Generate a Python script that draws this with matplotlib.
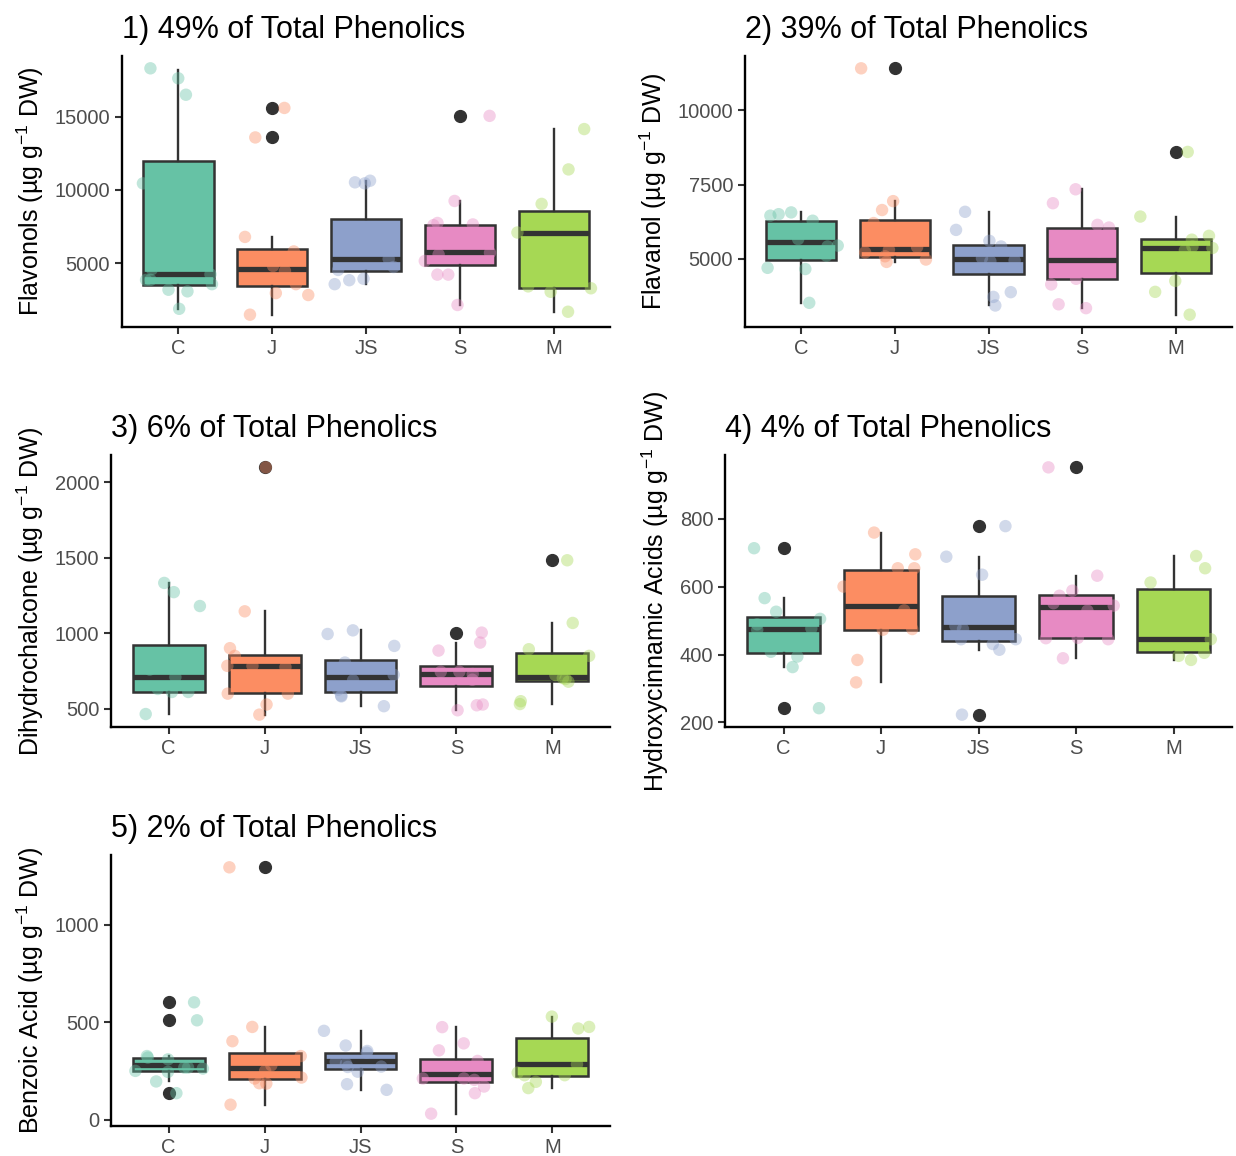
import numpy as np
import matplotlib
matplotlib.use("Agg")
import matplotlib.pyplot as plt

plt.rcParams['font.family'] = ['Liberation Sans', 'DejaVu Sans']
plt.rcParams['mathtext.fontset'] = 'custom'
plt.rcParams['mathtext.rm'] = 'Liberation Sans'
plt.rcParams['mathtext.it'] = 'Liberation Sans:italic'
plt.rcParams['mathtext.default'] = 'regular'

groups = ["C", "J", "JS", "S", "M"]
group_colors = ["#66C2A5", "#FC8D62", "#8DA0CB", "#E78AC3", "#A6D854"]

# box stats per group: q1, median, q3, lower whisker, upper whisker
flavonols_box = [(3500, 4250, 12000, 1900, 18200), (3470, 4600, 5950, 1500, 6800),
                 (4450, 5300, 8050, 3580, 10630), (4900, 5800, 7600, 2160, 9250),
                 (3350, 7100, 8600, 1700, 14150)]
flavonols_out = [[], [15590, 13580], [], [15050], []]
flavonols_pts = [[18290, 17610, 16490, 10450, 4600, 4250, 3870, 3870, 3580, 3090, 3200, 1900],
                 [15590, 13580, 6800, 5810, 4480, 4820, 3580, 2970, 2840, 1500],
                 [10630, 10450, 10520, 7300, 6300, 5300, 4750, 4550, 3950, 3850, 3580],
                 [15050, 9250, 7600, 7650, 7750, 5720, 5600, 5160, 4230, 4230, 2160],
                 [14150, 11400, 9050, 7100, 3430, 3300, 3060, 1700]]

flavanol_box = [(4970, 5550, 6280, 3510, 6560), (5060, 5340, 6300, 4890, 6940),
                (4490, 5000, 5460, 3420, 6580), (4300, 4970, 6050, 3330, 7340),
                (4510, 5360, 5670, 3110, 6420)]
flavanol_out = [[], [11420], [], [], [8600]]
flavanol_pts = [[6560, 6500, 6450, 6280, 5660, 5440, 5410, 5100, 4690, 4650, 3510],
                [11420, 6940, 6640, 6200, 5390, 5300, 5210, 5080, 4970, 4890],
                [6580, 5970, 5600, 5410, 5020, 4940, 4910, 3870, 3710, 3420],
                [7340, 6870, 6140, 6050, 5250, 4320, 4130, 3460, 3330],
                [8600, 6420, 5770, 5640, 5410, 5360, 5280, 4250, 3880, 3110]]

dhc_box = [(615, 711, 924, 466, 1334), (605, 785, 858, 462, 1146),
           (612, 711, 821, 518, 1020), (654, 731, 781, 491, 935),
           (687, 709, 873, 532, 1069)]
dhc_out = [[], [2099], [], [1005], [1484]]
dhc_pts = [[1334, 1273, 1181, 760, 711, 632, 612, 612, 466],
           [2099, 1146, 902, 851, 785, 785, 777, 601, 601, 529, 462],
           [1020, 996, 917, 807, 726, 689, 627, 583, 588, 518],
           [1005, 939, 886, 746, 746, 731, 693, 529, 524, 491],
           [1484, 1069, 895, 851, 724, 704, 698, 680, 551, 532]]

hca_box = [(404, 475, 510, 363, 566), (473, 544, 649, 318, 759),
           (441, 482, 573, 414, 688), (450, 539, 575, 389, 632),
           (408, 445, 594, 384, 690)]
hca_out = [[713, 242], [], [778, 223], [951], []]
hca_pts = [[713, 566, 526, 505, 489, 477, 473, 408, 394, 363, 242],
           [759, 695, 654, 654, 600, 530, 475, 473, 384, 318],
           [778, 688, 635, 484, 475, 445, 445, 431, 414, 223],
           [951, 632, 588, 573, 551, 544, 529, 449, 448, 445, 389],
           [690, 654, 612, 445, 405, 396, 384]]

benzoic_box = [(251, 281, 319, 197, 327), (208, 268, 341, 78, 476),
               (263, 302, 344, 154, 456), (192, 234, 310, 32, 475),
               (225, 285, 417, 163, 529)]
benzoic_out = [[602, 510, 137], [1293], [], [], []]
benzoic_pts = [[602, 510, 327, 319, 310, 268, 268, 263, 251, 246, 197, 137],
               [1293, 476, 403, 327, 280, 251, 217, 212, 188, 186, 78],
               [456, 381, 353, 344, 297, 288, 273, 271, 247, 183, 154],
               [475, 392, 356, 302, 212, 212, 205, 171, 137, 32],
               [529, 476, 468, 285, 242, 229, 229, 195, 163]]

W, H = 1236, 1156
ink = "#333333"


def draw_panel(rect, title, ylabel, box, out, pts, yticks, seed):
	left, top, right, bottom = rect
	ax = fig.add_axes([left / W, 1 - bottom / H, (right - left) / W, (bottom - top) / H])

	stats = []
	for b, o in zip(box, out):
		stats.append(dict(q1=b[0], med=b[1], q3=b[2], whislo=b[3], whishi=b[4], fliers=o))
	pos = np.arange(1, len(groups) + 1)
	bp = ax.bxp(stats, positions=pos, widths=0.75, patch_artist=True, showcaps=False,
				boxprops=dict(edgecolor=ink, linewidth=1.8),
				whiskerprops=dict(color=ink, linewidth=1.7),
				medianprops=dict(color=ink, linewidth=3.8, solid_capstyle="butt"),
				flierprops=dict(marker="o", markerfacecolor=ink, markeredgecolor=ink, markersize=8.5))
	for patch, c in zip(bp["boxes"], group_colors):
		patch.set_facecolor(c)

	# jittered raw values on top, like geom_jitter(width = 0.4)
	rng = np.random.default_rng(seed)
	allv = []
	for i, (vals, c) in enumerate(zip(pts, group_colors)):
		vals = np.asarray(vals, dtype=float)
		xs = pos[i] + rng.uniform(-0.4, 0.4, len(vals))
		ax.scatter(xs, vals, s=80, color=c, alpha=0.4, edgecolors="none", zorder=4)
		allv.extend(vals)
	for b, o in zip(box, out):
		allv.extend(b)
		allv.extend(o)
	lo, hi = min(allv), max(allv)
	pad = 0.05 * (hi - lo)
	ax.set_ylim(lo - pad, hi + pad)
	ax.set_xlim(0.4, len(groups) + 0.6)

	ax.set_xticks(pos)
	ax.set_xticklabels(groups)
	ax.set_yticks(yticks)
	ax.tick_params(axis="both", labelsize=14.5, labelcolor="#4D4D4D", color=ink,
				   length=5, width=1.5)
	ax.spines["top"].set_visible(False)
	ax.spines["right"].set_visible(False)
	for s in ["left", "bottom"]:
		ax.spines[s].set_linewidth(1.7)
		ax.spines[s].set_color("black")

	ax.set_title(title, loc="left", fontsize=22, pad=13)
	ax.set_ylabel(ylabel, fontsize=18, labelpad=6)
	return ax
#end_def


fig = plt.figure(figsize=(W / 100, H / 100), dpi=100)

draw_panel((122, 56, 610, 327), "1) 49% of Total Phenolics", "Flavonols (µg g$^{-1}$ DW)",
		   flavonols_box, flavonols_out, flavonols_pts, [5000, 10000, 15000], 11)
draw_panel((745, 56, 1232, 327), "2) 39% of Total Phenolics", "Flavanol (µg g$^{-1}$ DW)",
		   flavanol_box, flavanol_out, flavanol_pts, [5000, 7500, 10000], 22)
draw_panel((111, 455, 610, 727), "3) 6% of Total Phenolics", "Dihydrochalcone (µg g$^{-1}$ DW)",
		   dhc_box, dhc_out, dhc_pts, [500, 1000, 1500, 2000], 33)
draw_panel((725, 455, 1232, 727), "4) 4% of Total Phenolics", "Hydroxycinnamic Acids (µg g$^{-1}$ DW)",
		   hca_box, hca_out, hca_pts, [200, 400, 600, 800], 44)
draw_panel((111, 855, 610, 1126), "5) 2% of Total Phenolics", "Benzoic Acid (µg g$^{-1}$ DW)",
		   benzoic_box, benzoic_out, benzoic_pts, [0, 500, 1000], 55)

fig.savefig("out.png", dpi=100)
